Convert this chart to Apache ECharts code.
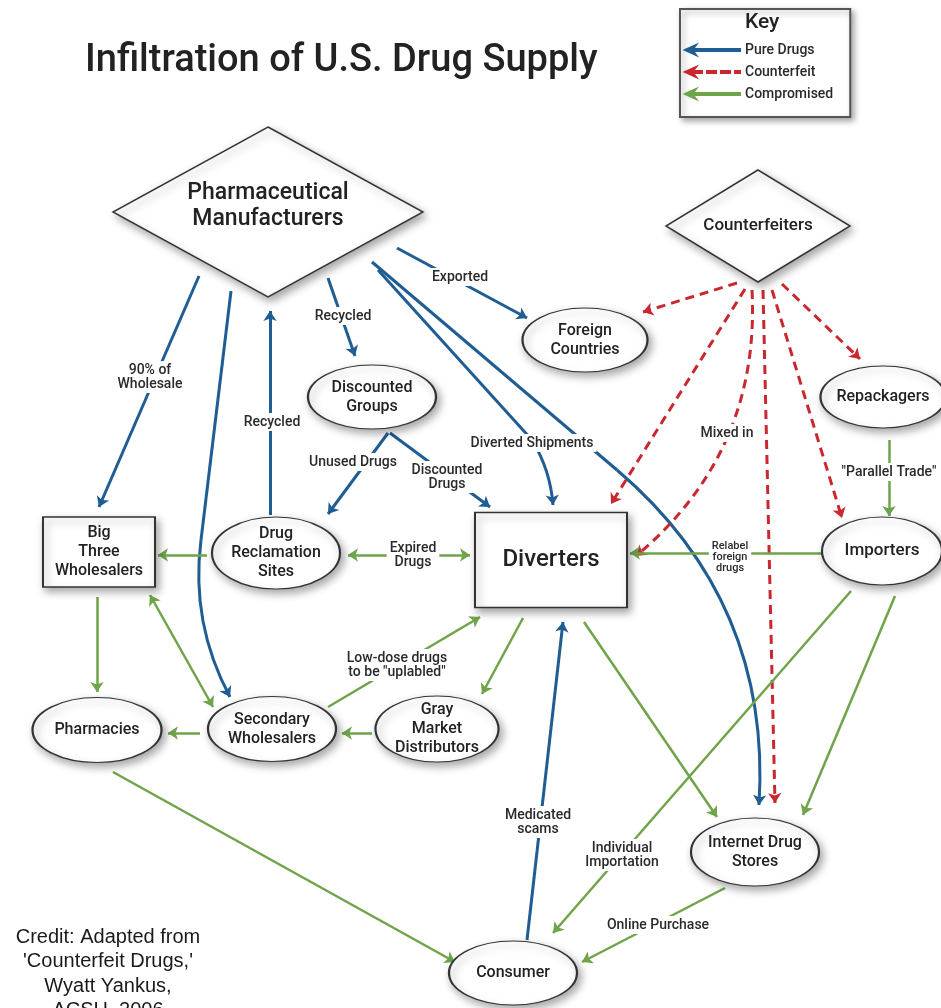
<!DOCTYPE html>
<html>
<head>
<meta charset="utf-8">
<title>Infiltration of U.S. Drug Supply</title>
<script src="https://cdn.jsdelivr.net/npm/echarts@6/dist/echarts.min.js"></script>
<style>html,body{margin:0;padding:0;background:#fff;}</style>
</head>
<body>
<div id="main" style="width:941px;height:1008px;"></div>
<script type="text/javascript">
// nodes of the supply diagram
var nodeNames = [
  'Pharmaceutical\nManufacturers', 'Counterfeiters', 'Foreign\nCountries', 'Repackagers',
  'Discounted\nGroups', 'Drug\nReclamation\nSites', 'Big\nThree\nWholesalers', 'Diverters',
  'Importers', 'Pharmacies', 'Secondary\nWholesalers', 'Gray\nMarket\nDistributors',
  'Internet Drug\nStores', 'Consumer'
];
var nodeX = [268, 758, 585, 883, 372, 276, 99, 551, 882, 97, 272, 437, 755, 513];
var nodeY = [212, 226, 340, 397, 397, 553, 552, 560, 551, 730, 729, 729, 852, 973];

// edges: [x1, y1, x2, y2, curveness]; long bends are split into a straight lead-in + a curve
var pureLeadIns = [
  [231, 291, 201, 540, 0],
  [372, 262, 617, 470, 0],
  [378, 270, 532, 440, 0]
];
var pureEdges = [
  [199, 276, 99, 507, 0],
  [201, 540, 230, 697, -0.16],
  [270, 515, 270, 311, 0],
  [328, 278, 355, 356, 0],
  [397, 248, 527, 318, 0],
  [532, 440, 553, 505, 0.12],
  [617, 470, 759, 805, 0.25],
  [388, 433, 328, 514, 0],
  [390, 433, 490, 507, 0],
  [527, 940, 563, 622, 0]
];
var counterfeitEdges = [
  [737, 283, 643, 312, 0],
  [745, 289, 611, 504, 0],
  [752, 290, 636, 556, 0.25],
  [763, 290, 775, 803, 0],
  [772, 290, 842, 518, 0],
  [782, 284, 860, 359, 0]
];
var compromisedEdges = [
  [207, 555, 158, 555, 0],
  [822, 553, 630, 553, 0],
  [889, 440, 889, 516, 0],
  [97, 597, 97, 692, 0],
  [200, 733, 168, 733, 0],
  [372, 733, 342, 733, 0],
  [328, 707, 480, 617, 0],
  [523, 618, 482, 694, 0],
  [584, 622, 717, 817, 0],
  [851, 591, 553, 933, 0],
  [895, 596, 803, 815, 0],
  [725, 888, 582, 962, 0],
  [113, 772, 455, 962, 0]
];
var twoWayEdges = [
  [348, 555, 470, 555, 0],
  [150, 595, 213, 707, 0]
];

// edge labels
var edgeLabels = [
  '90% of\nWholesale', 'Recycled', 'Recycled', 'Exported', 'Diverted Shipments',
  'Unused Drugs', 'Discounted\nDrugs', 'Expired\nDrugs', 'Mixed in', '"Parallel Trade"',
  'Low-dose drugs\nto be "uplabled"', 'Medicated\nscams', 'Individual\nImportation', 'Online Purchase'
];
var edgeLabelX = [150, 272, 343, 460, 532, 353, 447, 413, 727, 889, 397, 538, 622, 658];
var edgeLabelY = [377, 422, 316, 277, 443, 462, 477, 555, 433, 472, 665, 822, 855, 925];
var smallLabel = ['Relabel\nforeign\ndrugs'];
var smallLabelX = [730];
var smallLabelY = [557];

// shapes and sizes of the boxes
var ellipse = 'path://M50,0 C77.6,0 100,22.4 100,50 C100,77.6 77.6,100 50,100 C22.4,100 0,77.6 0,50 C0,22.4 22.4,0 50,0 Z';
var nodeShape = ['diamond', 'diamond', ellipse, ellipse, ellipse, ellipse, 'rect', 'rect',
  ellipse, ellipse, ellipse, ellipse, ellipse, ellipse];
var nodeW = [310, 184, 125, 125, 128, 128, 112, 152, 120, 129, 128, 123, 128, 128];
var nodeH = [170, 112, 64, 62, 64, 72, 70, 95, 68, 65, 65, 66, 68, 64];
var nodeFont = [23, 17, 16, 16, 16, 16, 16, 24, 17, 16, 16, 16, 16, 16];
var nodeTextShift = [-6, 0, 0, 0, 0, 0, 0, 0, 0, 0, 0, 0, 0, 0];

var BLUE = '#1f5d92', RED = '#c8282e', GREEN = '#6fa44a';
var FONT = 'Roboto';

function toLines(list) {
  return list.map(function (e) {
    return { coords: [[e[0], e[1]], [e[2], e[3]]], lineStyle: { curveness: e[4] } };
  });
}

var nodeData = nodeNames.map(function (n, i) {
  return {
    name: n,
    value: [nodeX[i], nodeY[i]],
    symbol: nodeShape[i],
    symbolSize: [nodeW[i], nodeH[i]],
    label: { fontSize: nodeFont[i], lineHeight: nodeFont[i] + 3, offset: [0, nodeTextShift[i]] }
  };
});
var labelData = edgeLabels.map(function (t, i) {
  return { name: t, value: [edgeLabelX[i], edgeLabelY[i]] };
});
var smallData = smallLabel.map(function (t, i) {
  return { name: t, value: [smallLabelX[i], smallLabelY[i]] };
});

var arrowSolid = 'path://M0,5 L11,0 L8,4 L55,4 L55,6 L8,6 L11,10 Z';
var arrowDash = 'path://M0,5 L11,0 L8,4 L17,4 L17,6 L8,6 L11,10 Z M22,4 L31,4 L31,6 L22,6 Z M36,4 L45,4 L45,6 L36,6 Z M50,4 L55,4 L55,6 L50,6 Z';

var textLabel = function (size) {
  return {
    show: true, position: 'inside', formatter: '{b}',
    fontFamily: FONT, fontWeight: 500, fontSize: size, lineHeight: size, color: '#2a2a2a',
    backgroundColor: '#fff', padding: [2, 3], align: 'center'
  };
};

var myChart = echarts.init(document.getElementById('main'));
myChart.setOption({
  animation: false,
  backgroundColor: '#fff',
  title: {
    text: 'Infiltration of U.S. Drug Supply',
    left: 85, top: 42, padding: 0,
    textStyle: { fontFamily: FONT, fontSize: 38, fontWeight: 500, color: '#222' }
  },
  legend: {
    orient: 'vertical',
    left: 680, top: 9,
    padding: [34, 17, 16, 4],
    itemWidth: 55, itemHeight: 10, itemGap: 8,
    selectedMode: false,
    borderColor: '#555', borderWidth: 2,
    backgroundColor: '#fff',
    shadowBlur: 6, shadowColor: 'rgba(0,0,0,0.35)', shadowOffsetX: 3, shadowOffsetY: 3,
    textStyle: { fontFamily: FONT, fontSize: 14, fontWeight: 500, color: '#2a2a2a' },
    data: [
      { name: 'Pure Drugs', icon: arrowSolid, itemStyle: { color: BLUE } },
      { name: 'Counterfeit', icon: arrowDash, itemStyle: { color: RED } },
      { name: 'Compromised', icon: arrowSolid, itemStyle: { color: GREEN } }
    ]
  },
  graphic: [
    { type: 'text', left: 745, top: 12, z: 100,
      style: { text: 'Key', fontFamily: FONT, fontSize: 21, fontWeight: 500, fill: '#222' } },
    { type: 'text', x: 108, y: 925, z: 100,
      style: { text: "Credit: Adapted from\n'Counterfeit Drugs,'\nWyatt Yankus,\nACSH, 2006",
        align: 'center', fontFamily: 'Liberation Sans', fontSize: 20, lineHeight: 24.5, fill: '#1a1a1a' } }
  ],
  grid: { left: 0, right: 0, top: 0, bottom: 0 },
  xAxis: { type: 'value', min: 0, max: 941, show: false },
  yAxis: { type: 'value', min: 0, max: 1008, inverse: true, show: false },
  series: [
    {
      name: 'Pure Drugs', type: 'lines', coordinateSystem: 'cartesian2d', z: 2, silent: true,
      symbol: ['none', 'none'],
      lineStyle: { color: BLUE, width: 3, opacity: 1 },
      data: toLines(pureLeadIns)
    },
    {
      name: 'Pure Drugs', type: 'lines', coordinateSystem: 'cartesian2d', z: 2, silent: true,
      symbol: ['none', 'arrow'], symbolSize: 10,
      lineStyle: { color: BLUE, width: 3, opacity: 1 },
      data: toLines(pureEdges)
    },
    {
      name: 'Counterfeit', type: 'lines', coordinateSystem: 'cartesian2d', z: 2, silent: true,
      symbol: ['none', 'arrow'], symbolSize: 10,
      lineStyle: { color: RED, width: 3, type: [9, 6], opacity: 1 },
      data: toLines(counterfeitEdges)
    },
    {
      name: 'Compromised', type: 'lines', coordinateSystem: 'cartesian2d', z: 2, silent: true,
      symbol: ['none', 'arrow'], symbolSize: 10,
      lineStyle: { color: GREEN, width: 2.5, opacity: 1 },
      data: toLines(compromisedEdges)
    },
    {
      name: 'Compromised', type: 'lines', coordinateSystem: 'cartesian2d', z: 2, silent: true,
      symbol: ['arrow', 'arrow'], symbolSize: 10,
      lineStyle: { color: GREEN, width: 2.5, opacity: 1 },
      data: toLines(twoWayEdges)
    },
    {
      type: 'scatter', z: 3, silent: true,
      itemStyle: {
        color: '#fff', opacity: 1, borderColor: '#333', borderWidth: 1.6,
        shadowBlur: 8, shadowColor: 'rgba(0,0,0,0.35)', shadowOffsetX: 3, shadowOffsetY: 4
      },
      label: {
        show: true, position: 'inside', formatter: '{b}',
        fontFamily: FONT, fontWeight: 500, color: '#222', align: 'center'
      },
      emphasis: { disabled: true },
      data: nodeData
    },
    {
      type: 'scatter', z: 4, silent: true, symbolSize: 1,
      itemStyle: { color: 'rgba(0,0,0,0)', opacity: 1 },
      label: textLabel(14),
      emphasis: { disabled: true },
      data: labelData
    },
    {
      type: 'scatter', z: 4, silent: true, symbolSize: 1,
      itemStyle: { color: 'rgba(0,0,0,0)', opacity: 1 },
      label: textLabel(11),
      emphasis: { disabled: true },
      data: smallData
    }
  ]
});
</script>
</body>
</html>
